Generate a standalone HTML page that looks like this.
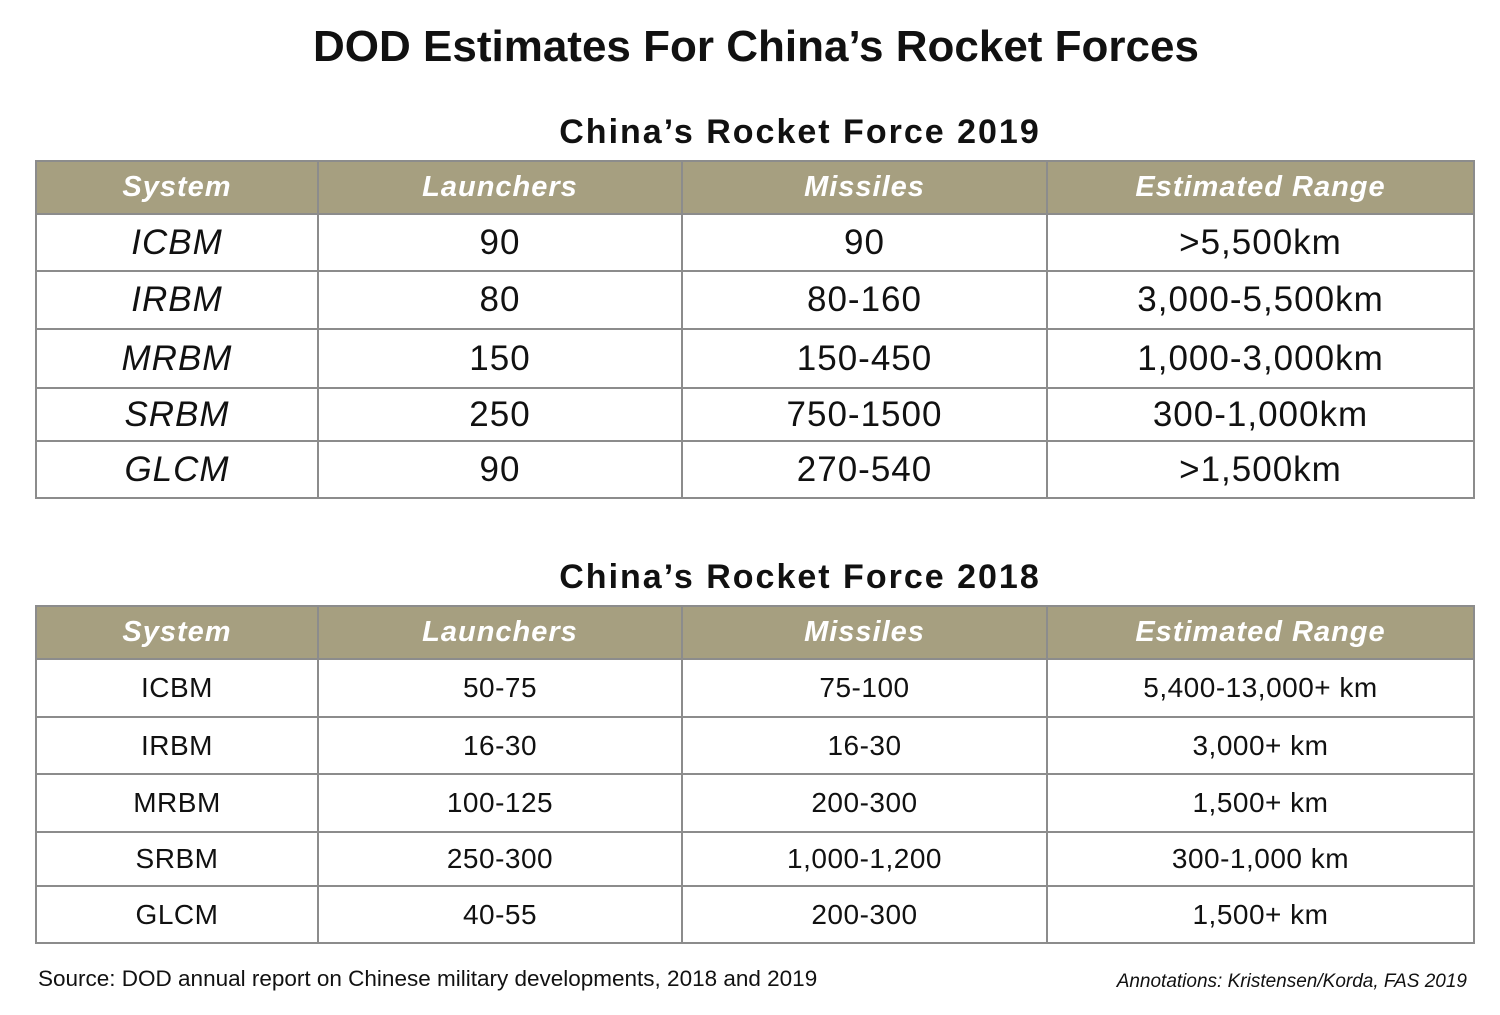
<!DOCTYPE html>
<html><head><meta charset="utf-8">
<style>
body{margin:0;width:1500px;height:1015px;background:#fff;position:relative;font-family:"Liberation Sans",sans-serif;overflow:hidden}
.t{position:absolute;left:35px;width:1438px;border-collapse:collapse;table-layout:fixed}
.t td,.t th{border:2px solid #8c8c8c;text-align:center;padding:0;color:#111}
.t th{background:#a69f80;color:#fff;font-style:italic;font-weight:bold;font-size:29px;letter-spacing:1px}
.a td{font-size:35px;letter-spacing:1px}
.a td:first-child{font-style:italic}
.b td{font-size:28px;letter-spacing:0.5px}
.h{position:absolute;left:0;width:1500px;text-align:center;font-weight:bold;color:#111}
</style></head><body>
<div class="h" style="top:22px;font-size:44px;left:6px">DOD Estimates For China’s Rocket Forces</div>
<div class="h" style="top:113px;font-size:34px;left:50px;letter-spacing:2px">China’s Rocket Force 2019</div>
<table class="t a" style="top:160px">
<colgroup><col style="width:282px"><col style="width:364px"><col style="width:365px"><col style="width:427px"></colgroup>
<tr style="height:53px"><th>System</th><th>Launchers</th><th>Missiles</th><th>Estimated Range</th></tr>
<tr style="height:57px"><td>ICBM</td><td>90</td><td>90</td><td>&gt;5,500km</td></tr>
<tr style="height:58px"><td>IRBM</td><td>80</td><td>80-160</td><td>3,000-5,500km</td></tr>
<tr style="height:59px"><td>MRBM</td><td>150</td><td>150-450</td><td>1,000-3,000km</td></tr>
<tr style="height:53px"><td>SRBM</td><td>250</td><td>750-1500</td><td>300-1,000km</td></tr>
<tr style="height:57px"><td>GLCM</td><td>90</td><td>270-540</td><td>&gt;1,500km</td></tr>
</table>
<div class="h" style="top:558px;font-size:34px;left:50px;letter-spacing:2px">China’s Rocket Force 2018</div>
<table class="t b" style="top:605px">
<colgroup><col style="width:282px"><col style="width:364px"><col style="width:365px"><col style="width:427px"></colgroup>
<tr style="height:53px"><th>System</th><th>Launchers</th><th>Missiles</th><th>Estimated Range</th></tr>
<tr style="height:58px"><td>ICBM</td><td>50-75</td><td>75-100</td><td>5,400-13,000+ km</td></tr>
<tr style="height:57px"><td>IRBM</td><td>16-30</td><td>16-30</td><td>3,000+ km</td></tr>
<tr style="height:58px"><td>MRBM</td><td>100-125</td><td>200-300</td><td>1,500+ km</td></tr>
<tr style="height:54px"><td>SRBM</td><td>250-300</td><td>1,000-1,200</td><td>300-1,000 km</td></tr>
<tr style="height:57px"><td>GLCM</td><td>40-55</td><td>200-300</td><td>1,500+ km</td></tr>
</table>
<div style="position:absolute;left:38px;top:966px;font-size:22.5px;color:#111">Source: DOD annual report on Chinese military developments, 2018 and 2019</div>
<div style="position:absolute;right:33px;top:971px;font-size:19px;font-style:italic;color:#111">Annotations: Kristensen/Korda, FAS 2019</div>
</body></html>
